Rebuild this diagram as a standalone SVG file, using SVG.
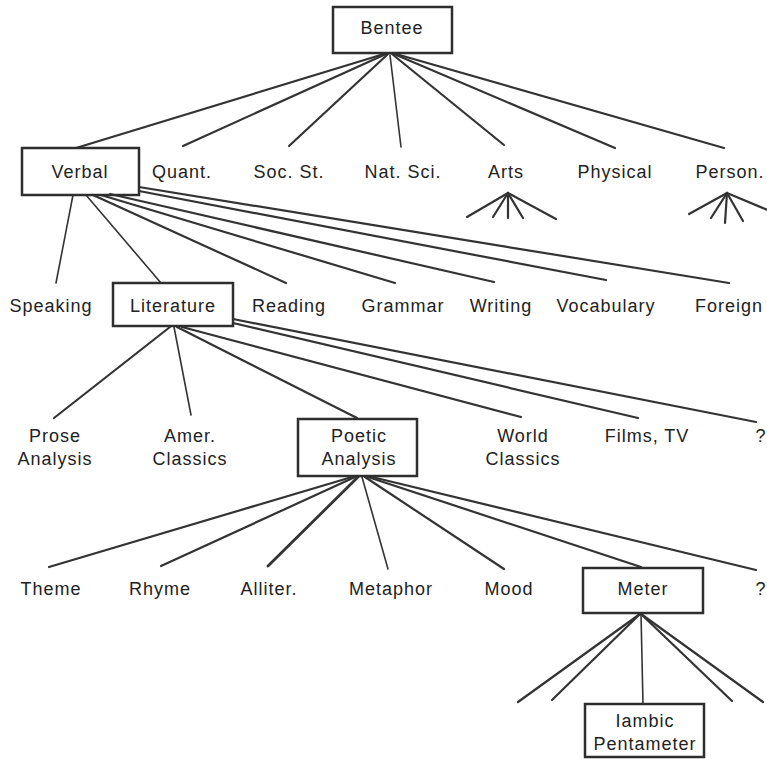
<svg xmlns="http://www.w3.org/2000/svg" width="767" height="759" viewBox="0 0 767 759">
<style>
  text { font-family: "Liberation Sans", Arial, sans-serif; font-size: 18px; fill: #222; text-anchor: middle; letter-spacing: 1px; }
  .box { fill: none; stroke: #2e2e2e; stroke-width: 2.5; }
  .ln { stroke: #333; stroke-width: 2.2; stroke-linecap: round; fill: none; }
  .thin { stroke-width: 1.6; }
</style>
<rect width="767" height="759" fill="#fff"/>
<g id="connectors">
  <line class="ln" x1="384" y1="54" x2="76" y2="148"/>
  <line class="ln" x1="386" y1="54" x2="183" y2="146"/>
  <line class="ln" x1="388" y1="54" x2="289" y2="146"/>
  <line class="ln thin" x1="390" y1="55" x2="401" y2="147"/>
  <line class="ln" x1="392" y1="54" x2="504" y2="145"/>
  <line class="ln" x1="394" y1="54" x2="615" y2="148"/>
  <line class="ln" x1="396" y1="54" x2="724" y2="148"/>
  <line class="ln" x1="508" y1="193" x2="467" y2="217"/>
  <line class="ln" x1="508" y1="193" x2="493" y2="217"/>
  <line class="ln" x1="508" y1="193" x2="508" y2="218"/>
  <line class="ln" x1="508" y1="193" x2="523" y2="218"/>
  <line class="ln" x1="508" y1="193" x2="556" y2="219"/>
  <line class="ln" x1="727" y1="193" x2="689" y2="214"/>
  <line class="ln" x1="727" y1="193" x2="711" y2="218"/>
  <line class="ln" x1="727" y1="193" x2="725" y2="223"/>
  <line class="ln" x1="727" y1="193" x2="743" y2="221"/>
  <line class="ln" x1="727" y1="193" x2="770" y2="211"/>
  <line class="ln thin" x1="73" y1="195" x2="56" y2="283"/>
  <line class="ln thin" x1="86" y1="195" x2="161" y2="283"/>
  <line class="ln" x1="93" y1="195" x2="286" y2="283"/>
  <line class="ln" x1="101" y1="195" x2="395" y2="283"/>
  <line class="ln" x1="110" y1="194" x2="494" y2="282"/>
  <line class="ln" x1="139" y1="191" x2="606" y2="280"/>
  <line class="ln" x1="139" y1="187" x2="729" y2="283"/>
  <line class="ln" x1="170" y1="327" x2="54" y2="418"/>
  <line class="ln thin" x1="174" y1="327" x2="191" y2="415"/>
  <line class="ln" x1="177" y1="327" x2="357" y2="418"/>
  <line class="ln" x1="182" y1="327" x2="521" y2="417"/>
  <line class="ln" x1="233" y1="323" x2="638" y2="418"/>
  <line class="ln" x1="233" y1="319" x2="756" y2="422"/>
  <line class="ln" x1="352" y1="477" x2="49" y2="567"/>
  <line class="ln" x1="355" y1="477" x2="161" y2="566"/>
  <line class="ln" x1="358" y1="477" x2="268" y2="566" style="stroke-width:2.8"/>
  <line class="ln thin" x1="362" y1="477" x2="388" y2="569"/>
  <line class="ln" x1="365" y1="477" x2="504" y2="569"/>
  <line class="ln" x1="368" y1="477" x2="641" y2="567"/>
  <line class="ln" x1="372" y1="477" x2="756" y2="570"/>
  <line class="ln" x1="640" y1="614" x2="518" y2="702"/>
  <line class="ln" x1="640" y1="614" x2="552" y2="700"/>
  <line class="ln thin" x1="641" y1="614" x2="643" y2="704"/>
  <line class="ln" x1="641" y1="614" x2="732" y2="701"/>
  <line class="ln" x1="641" y1="614" x2="763" y2="702"/>
</g>
<g id="bentee"><rect class="box" x="333" y="7" width="119" height="46"/><text x="392" y="34">Bentee</text></g>
<g id="verbal"><rect class="box" x="22" y="148" width="117" height="47"/><text x="80" y="178">Verbal</text></g>
<g id="quant"><text x="182" y="178">Quant.</text></g>
<g id="socst"><text x="289" y="178">Soc. St.</text></g>
<g id="natsci"><text x="403" y="178">Nat. Sci.</text></g>
<g id="arts"><text x="506" y="178">Arts</text></g>
<g id="physical"><text x="615" y="178">Physical</text></g>
<g id="person"><text x="730" y="178">Person.</text></g>
<g id="speaking"><text x="51" y="312">Speaking</text></g>
<g id="literature"><rect class="box" x="113" y="283" width="120" height="43"/><text x="173" y="312">Literature</text></g>
<g id="reading"><text x="289" y="312">Reading</text></g>
<g id="grammar"><text x="403" y="312">Grammar</text></g>
<g id="writing"><text x="501" y="312">Writing</text></g>
<g id="vocabulary"><text x="606" y="312">Vocabulary</text></g>
<g id="foreign"><text x="729" y="312">Foreign</text></g>
<g id="prose"><text x="55" y="442">Prose</text><text x="55" y="465">Analysis</text></g>
<g id="amer"><text x="190" y="442">Amer.</text><text x="190" y="465">Classics</text></g>
<g id="poetic"><rect class="box" x="298" y="419" width="119" height="57"/><text x="359" y="442">Poetic</text><text x="359" y="465">Analysis</text></g>
<g id="world"><text x="523" y="442">World</text><text x="523" y="465">Classics</text></g>
<g id="films"><text x="647" y="442">Films, TV</text></g>
<g id="q1"><text x="761" y="442">?</text></g>
<g id="theme"><text x="51" y="595">Theme</text></g>
<g id="rhyme"><text x="160" y="595">Rhyme</text></g>
<g id="alliter"><text x="269" y="595">Alliter.</text></g>
<g id="metaphor"><text x="391" y="595">Metaphor</text></g>
<g id="mood"><text x="509" y="595">Mood</text></g>
<g id="meter"><rect class="box" x="583" y="568" width="120" height="45"/><text x="643" y="595">Meter</text></g>
<g id="q2"><text x="761" y="595">?</text></g>
<g id="iambic"><rect class="box" x="585" y="704" width="119" height="53"/><text x="645" y="727">Iambic</text><text x="645" y="750">Pentameter</text></g>
</svg>
